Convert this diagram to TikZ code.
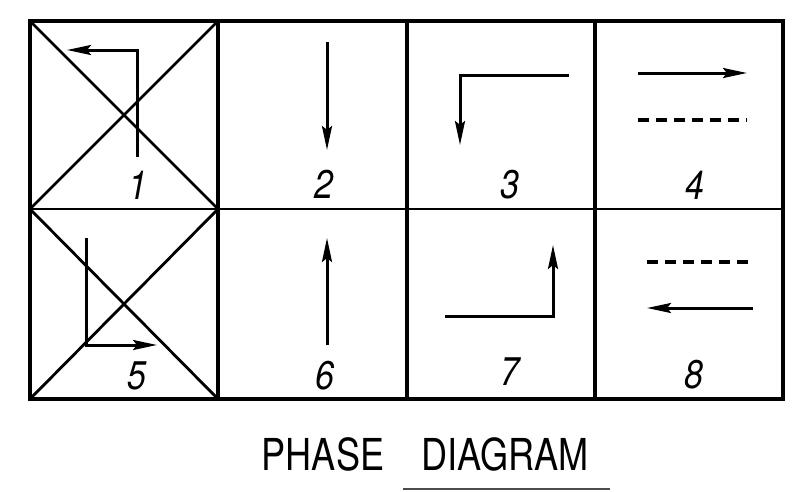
\documentclass[tikz,border=0pt]{standalone}
\usepackage{fontspec}
\setmainfont{TeX Gyre Heros}
\usepackage{tikz}
\usetikzlibrary{arrows.meta}
\tikzset{
  frame/.style={line width=3.2pt},
  cross/.style={line width=2.8pt},
  flow/.style={line width=3pt,-{Stealth[length=24pt,width=10pt,inset=4pt]}},
  idle/.style={line width=3.2pt,dash pattern=on 11pt off 7pt},
  num/.style={font=\fontsize{40}{40}\selectfont\itshape,xscale=0.85,inner sep=0pt},
  caption/.style={font=\fontsize{44}{44}\selectfont,xscale=0.82,inner sep=0pt},
  >=Stealth
}

\begin{document}
\begin{tikzpicture}[x=1pt,y=-1pt]
    \useasboundingbox (0,0) rectangle (796,491);
    % table
    \draw[frame] (30,21) rectangle (783,399);
    \foreach \x in {218,407,595} \draw[frame] (\x,21) -- (\x,399);
    \draw[line width=2.2pt] (30,209) -- (783,209);
    \draw[cross] (30,21) -- (218,209) (30,209) -- (218,21);
    \draw[cross] (30,209) -- (218,399) (30,399) -- (218,209);
    % phases
    \draw[flow] (137,157) |- (67,50);
    \draw[flow] (327,42) -- (327,150);
    \draw[flow] (569,75) -| (460,145);
    \draw[flow] (638,73) -- (747,73);
    \draw[idle] (638,120) -- (747,120);
    \draw[flow] (86,238) |- (157,345);
    \draw[flow] (327,345) -- (327,238);
    \draw[flow] (445,316) -| (553,245);
    \draw[idle] (647,262) -- (753,262);
    \draw[flow] (753,308) -- (647,308);
    \foreach \n/\x/\y in {1/138/185,2/324/184,3/510/185,4/695/185,
                          5/137/376,6/325/376,7/510/372,8/694/375}
      \node[num] (n\n) at (\x,\y) {\n};
    % title
    \node[caption] (phase) at (323,454) {PHASE};
    \node[caption] (diagram) at (505,454) {DIAGRAM};
    \draw[line width=1.6pt,black!70] (403,489) -- (610,489);
  \end{tikzpicture}
\end{document}
